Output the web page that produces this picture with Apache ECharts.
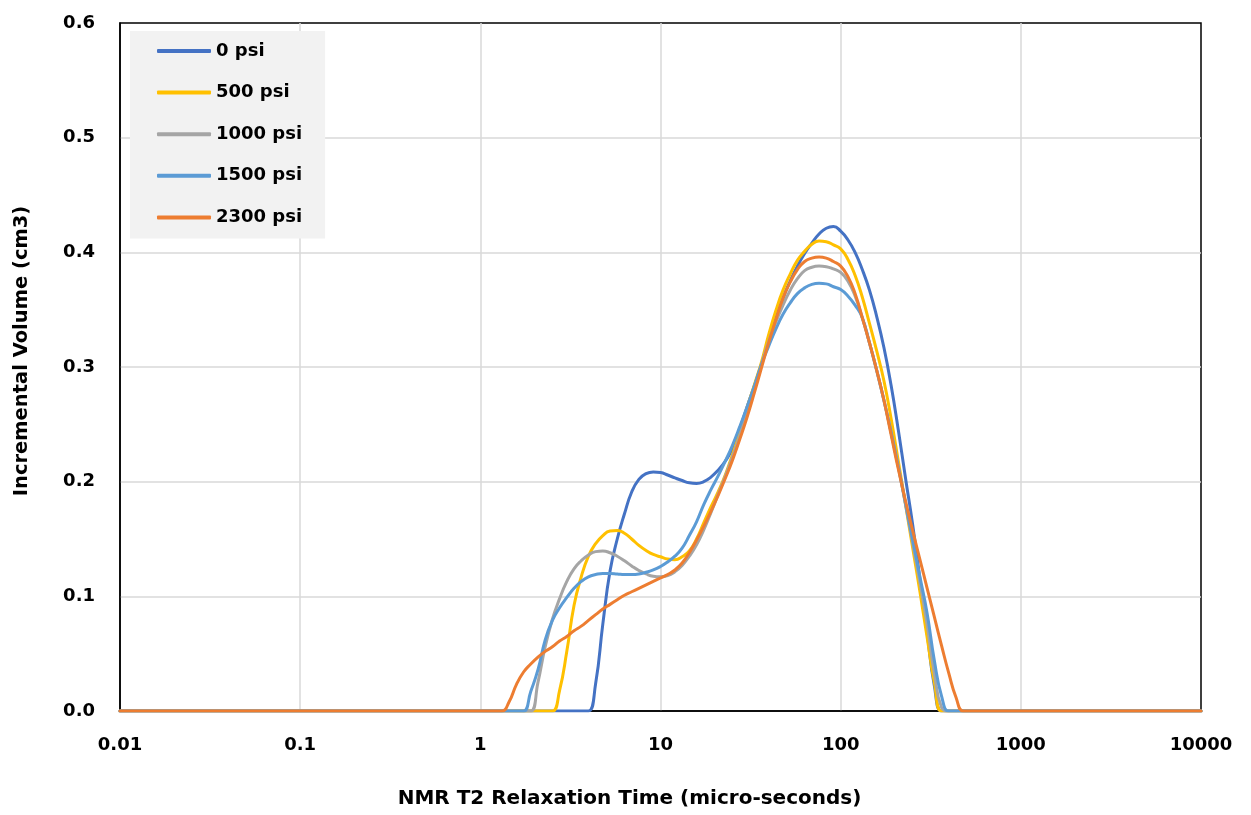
<!DOCTYPE html>
<html>
<head>
<meta charset="utf-8">
<title>NMR T2 Distribution</title>
<script src="https://cdn.jsdelivr.net/npm/echarts@6/dist/echarts.min.js"></script>
<style>
  html, body { margin: 0; padding: 0; background: #fff; }
  #chart { width: 1251px; height: 815px; }
</style>
</head>
<body>
<div id="chart"></div>
<script>
// T2 relaxation time bins (micro-seconds), shared by all pressure steps
const t2Bins = [
  0.01, 1,
  1.202, 1.318, 1.445, 1.585, 1.738, 1.905, 2.089, 2.291, 2.512, 2.754,
  3.020, 3.311, 3.631, 3.981, 4.365, 4.786, 5.248, 5.754, 6.310, 6.918,
  7.586, 8.318, 9.120, 10.00, 10.96, 12.02, 13.18, 14.45, 15.85, 17.38,
  19.05, 20.89, 22.91, 25.12, 27.54, 30.20, 33.11, 36.31, 39.81, 43.65,
  47.86, 52.48, 57.54, 63.10, 69.18, 75.86, 83.18, 91.20, 100.0, 109.6,
  120.2, 131.8, 144.5, 158.5, 173.8, 190.5, 208.9, 229.1, 251.2, 275.4,
  302.0, 331.1, 363.1, 398.1, 436.5, 478.6, 524.8,
  10000
];

// Incremental volume (cm3) per bin for each confining pressure
const vol_0psi = [
  0, 0,
  0, 0, 0, 0, 0, 0, 0, 0, 0, 0,
  0, 0, 0, 0, 0.024, 0.076, 0.122, 0.150, 0.172, 0.191,
  0.202, 0.207, 0.2085, 0.208, 0.2058, 0.2033, 0.2010, 0.1990, 0.1985, 0.2000,
  0.2040, 0.2100, 0.2180, 0.2290, 0.2460, 0.2650, 0.2830, 0.3020, 0.3220, 0.3420,
  0.3600, 0.3750, 0.3880, 0.3990, 0.4080, 0.4160, 0.4210, 0.4225, 0.4185, 0.4110,
  0.4000, 0.3850, 0.3670, 0.3440, 0.3170, 0.2840, 0.2450, 0.2030, 0.1620, 0.1150,
  0.0680, 0.0220, 0, 0, 0, 0, 0,
  0
];
const vol_500psi = [
  0, 0,
  0, 0, 0, 0, 0, 0, 0, 0, 0, 0.018,
  0.052, 0.092, 0.117, 0.135, 0.146, 0.153, 0.157, 0.1575, 0.155, 0.150,
  0.1445, 0.140, 0.1365, 0.1345, 0.1325, 0.1320, 0.1345, 0.1395, 0.1500, 0.1640,
  0.1780, 0.1910, 0.2060, 0.2240, 0.2430, 0.2640, 0.2840, 0.3040, 0.3280, 0.3490,
  0.3670, 0.3810, 0.3930, 0.4010, 0.4070, 0.4098, 0.4092, 0.4065, 0.4030, 0.3940,
  0.3800, 0.3610, 0.3380, 0.3140, 0.2880, 0.2550, 0.2180, 0.1800, 0.1420, 0.1040,
  0.0640, 0.0250, 0, 0, 0, 0, 0,
  0
];
const vol_1000psi = [
  0, 0,
  0, 0, 0, 0, 0, 0, 0.025, 0.056, 0.080, 0.098,
  0.113, 0.124, 0.131, 0.136, 0.139, 0.1395, 0.138, 0.135, 0.131, 0.1265,
  0.1225, 0.1195, 0.1175, 0.117, 0.118, 0.1215, 0.127, 0.135, 0.145, 0.158,
  0.173, 0.189, 0.205, 0.222, 0.240, 0.260, 0.281, 0.302, 0.322, 0.339,
  0.354, 0.367, 0.377, 0.384, 0.387, 0.388, 0.3875, 0.3855, 0.3825, 0.375,
  0.362, 0.343, 0.321, 0.297, 0.271, 0.243, 0.213, 0.180, 0.146, 0.112,
  0.075, 0.033, 0.003, 0, 0, 0, 0,
  0
];
const vol_1500psi = [
  0, 0,
  0, 0, 0, 0, 0, 0.017, 0.036, 0.062, 0.079, 0.090,
  0.099, 0.107, 0.113, 0.117, 0.119, 0.120, 0.120, 0.1195, 0.119, 0.119,
  0.1195, 0.121, 0.123, 0.126, 0.130, 0.135, 0.142, 0.153, 0.165, 0.180,
  0.193, 0.205, 0.218, 0.232, 0.248, 0.265, 0.283, 0.302, 0.318, 0.333,
  0.346, 0.356, 0.364, 0.369, 0.372, 0.373, 0.3725, 0.370, 0.3675, 0.362,
  0.354, 0.343, 0.321, 0.297, 0.271, 0.243, 0.213, 0.181, 0.149, 0.117,
  0.085, 0.044, 0.013, 0, 0, 0, 0,
  0
];
const vol_2300psi = [
  0, 0,
  0, 0, 0.008, 0.023, 0.034, 0.041, 0.047, 0.052, 0.056, 0.061,
  0.065, 0.070, 0.074, 0.079, 0.084, 0.089, 0.093, 0.097, 0.101, 0.104,
  0.107, 0.110, 0.113, 0.116, 0.119, 0.123, 0.129, 0.138, 0.149, 0.161,
  0.174, 0.188, 0.203, 0.219, 0.237, 0.256, 0.277, 0.299, 0.321, 0.341,
  0.360, 0.374, 0.385, 0.392, 0.395, 0.396, 0.395, 0.392, 0.388, 0.379,
  0.364, 0.343, 0.321, 0.297, 0.271, 0.241, 0.211, 0.183, 0.157, 0.132,
  0.107, 0.082, 0.057, 0.033, 0.012, 0, 0,
  0
];

const seriesNames  = ['0 psi', '500 psi', '1000 psi', '1500 psi', '2300 psi'];
const seriesColors = ['#4472C4', '#FFC000', '#A5A5A5', '#5B9BD5', '#ED7D31'];
const xTickLabels  = ['0.01', '0.1', '1', '10', '100', '1000', '10000'];

const FONT = '"DejaVu Sans", "Liberation Sans", sans-serif';

const volumes = [vol_0psi, vol_500psi, vol_1000psi, vol_1500psi, vol_2300psi];

const chart = echarts.init(document.getElementById('chart'), null, { renderer: 'canvas' });

chart.setOption({
  animation: false,
  backgroundColor: '#ffffff',
  grid: {
    left: 120, right: 50, top: 23, bottom: 104,
    show: true, borderColor: '#000', borderWidth: 1.5, backgroundColor: 'transparent'
  },
  legend: {
    orient: 'vertical',
    left: 130, top: 31,
    padding: [10, 23, 11, 27],
    itemGap: 21.6,
    itemWidth: 54, itemHeight: 4,
    icon: 'roundRect',
    backgroundColor: '#F2F2F2',
    data: seriesNames,
    textStyle: { fontFamily: FONT, fontWeight: 'bold', fontSize: 18, color: '#000', lineHeight: 20 }
  },
  xAxis: {
    type: 'log', logBase: 10, min: 0.01, max: 10000,
    z: 1,
    name: 'NMR T2 Relaxation Time (micro-seconds)',
    nameLocation: 'middle', nameGap: 78,
    // the title sits centred on the whole chart, a little left of the plot centre
    nameTextStyle: { fontFamily: FONT, fontWeight: 'bold', fontSize: 20, color: '#000', padding: [0, 62, 0, 0] },
    axisLine: { show: true, lineStyle: { color: '#000', width: 1.5 } },
    axisTick: { show: false },
    axisLabel: {
      margin: 25,
      fontFamily: FONT, fontWeight: 'bold', fontSize: 18, color: '#000',
      formatter: v => xTickLabels[Math.round(Math.log10(v)) + 2]
    },
    splitLine: { show: true, showMinLine: false, showMaxLine: false, lineStyle: { color: '#D9D9D9', width: 1.5 } }
  },
  yAxis: {
    type: 'value', min: 0, max: 0.6, interval: 0.1,
    name: 'Incremental Volume (cm3)',
    nameLocation: 'middle', nameGap: 88,
    nameTextStyle: { fontFamily: FONT, fontWeight: 'bold', fontSize: 19.5, color: '#000', padding: [0, 0, 0, 32] },
    axisLine: { show: true, lineStyle: { color: '#000', width: 1.5 } },
    axisTick: { show: false },
    axisLabel: {
      margin: 25,
      fontFamily: FONT, fontWeight: 'bold', fontSize: 18, color: '#000',
      formatter: v => v.toFixed(1)
    },
    splitLine: { show: true, showMinLine: false, showMaxLine: false, lineStyle: { color: '#D9D9D9', width: 1.5 } }
  },
  series: volumes.map((vol, i) => ({
    name: seriesNames[i],
    type: 'line',
    smooth: 0.5,
    symbol: 'none',
    color: seriesColors[i],
    lineStyle: { width: 3, color: seriesColors[i], cap: 'round', join: 'round' },
    data: t2Bins.map((x, k) => [x, vol[k]])
  }))
});
</script>
</body>
</html>
